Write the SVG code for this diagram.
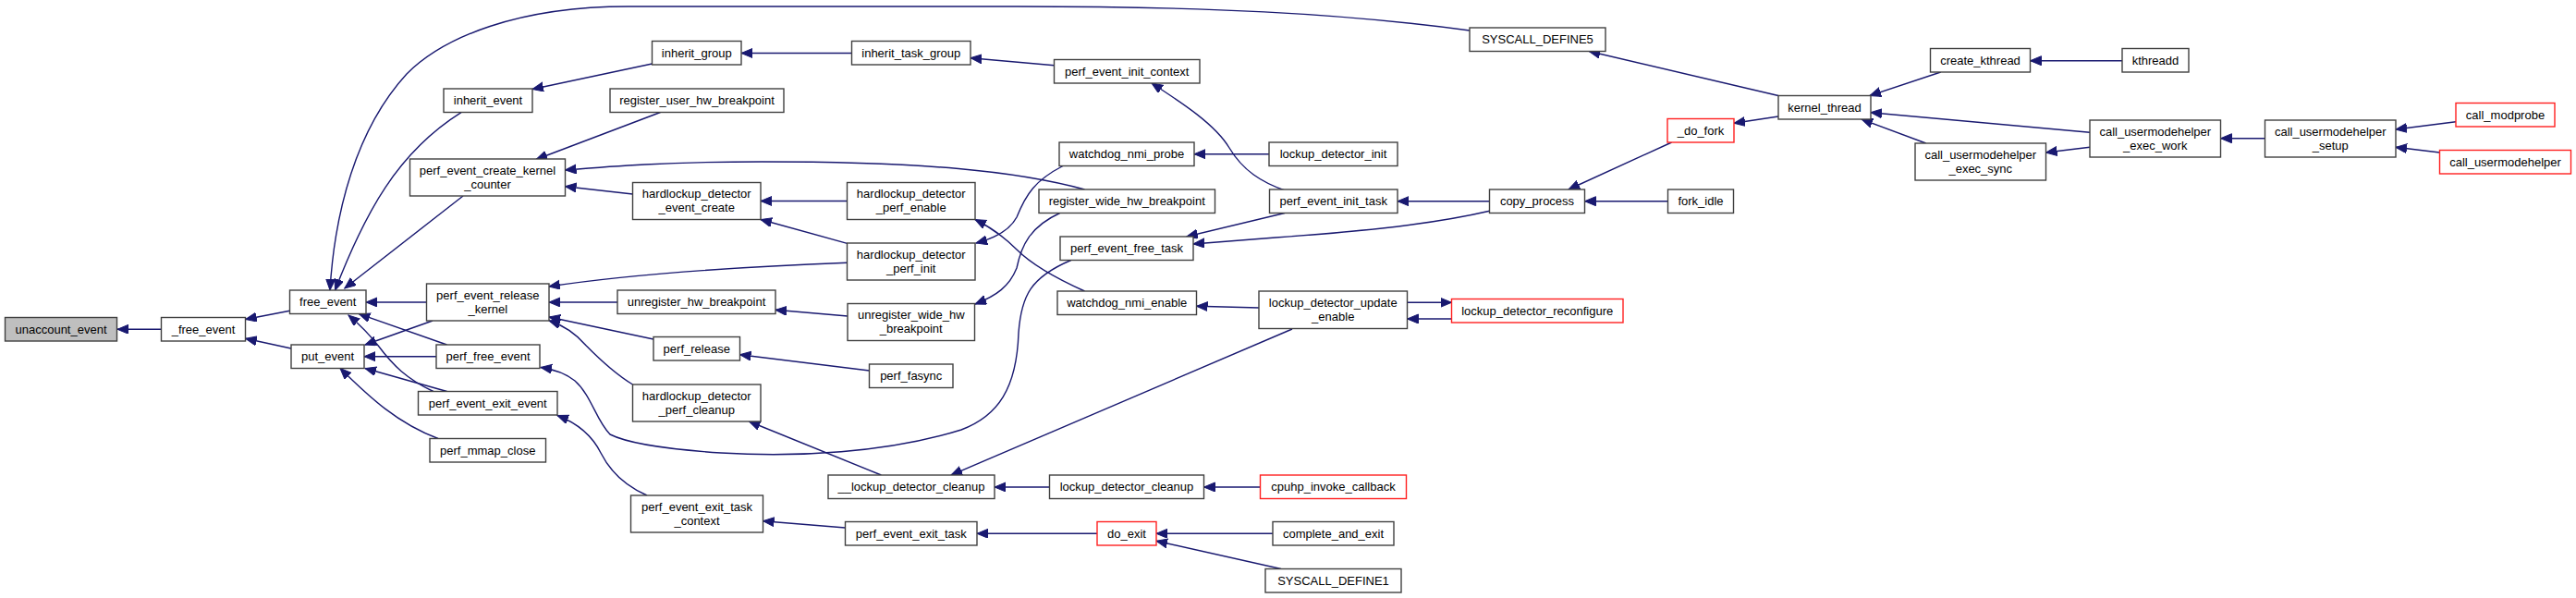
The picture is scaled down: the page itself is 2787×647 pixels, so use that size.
<svg xmlns="http://www.w3.org/2000/svg" width="2787" height="647" viewBox="0 0 2787 647">
<defs>
<style>
.node rect{fill:#ffffff;stroke:#404040;stroke-width:1.4}
.node rect.hl{fill:#bfbfbf}
.node rect.red{stroke:#ff2020}
.node text{font-family:"Liberation Sans",Arial,sans-serif;font-size:13px;fill:#000;text-anchor:middle}
#edges path{fill:none;stroke:#191970;stroke-width:1.4;marker-end:url(#arr)}
</style>
<marker id="arr" markerUnits="userSpaceOnUse" markerWidth="14" markerHeight="12" refX="12" refY="5" orient="auto">
<path d="M0,0 L12,5 L0,10 z" fill="#191970" stroke="#191970" stroke-width="1"/>
</marker>
</defs>
<rect width="2787" height="647" fill="#ffffff"/>
<g id="edges">
<path d="M174.5,356.3 L127,356.3"/>
<path d="M313.5,336.3 L265.6,345.5"/>
<path d="M315,377 L265.6,366.3"/>
<path d="M1590,33 C1450,14 1300,7 1100,7 L680,7 C560,7 480,40 440,80 C385,140 362,230 357,314"/>
<path d="M499,121.7 C430,165 395,230 362.5,314"/>
<path d="M501,212 L372.8,312"/>
<path d="M461.5,327 L396,327"/>
<path d="M483.5,373 L388.4,339.7"/>
<path d="M468.8,423.5 C440,410 425,395 410,375 C400,362 390,352 377,341"/>
<path d="M468,347 L395,373"/>
<path d="M472,385.7 L394,385.7"/>
<path d="M483.5,423.5 L395,398.5"/>
<path d="M474,474.5 C430,458 400,430 368,398.5"/>
<path d="M705.5,69 L576,96.5"/>
<path d="M921.5,57.5 L802,57.5"/>
<path d="M1140.5,70.7 L1050,62.7"/>
<path d="M1390,206 C1365,197 1345,185 1330,160 C1315,135 1280,112 1246,90"/>
<path d="M714.5,121.5 L580,172.5"/>
<path d="M1173.5,205 C1100,185 1000,175 824,175 C720,175 660,180 611.5,184"/>
<path d="M684.5,210 L611.5,201.7"/>
<path d="M916.5,217.5 L823,217.5"/>
<path d="M916.5,263.3 L823,237.5"/>
<path d="M1150,179.5 C1120,195 1110,210 1100,235 C1092,250 1075,258 1056,263"/>
<path d="M1173.5,315 C1140,300 1115,285 1100,270 C1085,255 1070,245 1055,237.5"/>
<path d="M1373,166.7 L1292,166.7"/>
<path d="M1362,333 L1294.5,331.3"/>
<path d="M1390,230.5 L1283.8,256"/>
<path d="M1611.5,228.3 C1540,245 1450,252 1380,257 L1291,264"/>
<path d="M1146.7,230.5 C1115,245 1105,265 1100,290 C1092,310 1078,320 1055,329"/>
<path d="M1158.8,281.5 C1115,300 1105,320 1102,360 C1100,420 1080,450 1040,465 C960,490 860,495 780,490 C720,486 680,480 660,470 C645,455 640,428 622,412 C612,404 602,400 585,397.5"/>
<path d="M916.5,284.3 C820,288 700,294 593.8,310"/>
<path d="M668,327 L594,327"/>
<path d="M707,367 L594,343"/>
<path d="M684.5,416 C665,404 650,390 634,373.7 C622,360 610,352 594,347"/>
<path d="M917,342 L839,335.3"/>
<path d="M940.5,401 L800.5,383.7"/>
<path d="M953.4,514 L810.5,456"/>
<path d="M1398,356 L1029,514"/>
<path d="M1135.5,527 L1076,527"/>
<path d="M1363.5,527 L1302.5,527"/>
<path d="M700,536 C675,525 660,510 650,490 C640,470 625,458 603,449.5"/>
<path d="M914.5,571 L825.5,563.7"/>
<path d="M1187,577.3 L1057,577.3"/>
<path d="M1377,577.3 L1251,577.3"/>
<path d="M1386,615.5 L1251,585.3"/>
<path d="M1522.5,327.3 L1570.5,327.3"/>
<path d="M1570.5,345 L1522.5,345"/>
<path d="M1611.5,217.7 L1512,217.7"/>
<path d="M1804.5,217.7 L1714.5,217.7"/>
<path d="M1808.6,154 L1697,205"/>
<path d="M1924,126 L1876,133.3"/>
<path d="M1924,103.5 L1719.3,55.5"/>
<path d="M2099.7,78 L2022.9,103.5"/>
<path d="M2261,143.3 L2024,121.7"/>
<path d="M2083.7,155 L2014,129"/>
<path d="M2296,65.7 L2196.5,65.7"/>
<path d="M2261,159.3 L2213.5,165"/>
<path d="M2450.5,149.7 L2402.5,149.7"/>
<path d="M2657,131.7 L2592,140"/>
<path d="M2639.5,165 L2592,159.3"/>
</g>
<g id="n_unaccount_event" class="node"><rect class="hl" x="5.5" y="343.5" width="121" height="25.5"/><text x="66" y="360.7">unaccount_event</text></g>
<g id="n__free_event" class="node"><rect x="174.5" y="343.5" width="91" height="25.5"/><text x="220" y="360.7">_free_event</text></g>
<g id="n_free_event" class="node"><rect x="313.5" y="314" width="82.5" height="25.5"/><text x="354.75" y="331.2">free_event</text></g>
<g id="n_put_event" class="node"><rect x="315" y="373" width="79" height="25.5"/><text x="354.5" y="390.2">put_event</text></g>
<g id="n_inherit_event" class="node"><rect x="480" y="96" width="96" height="25.5"/><text x="528" y="113.2">inherit_event</text></g>
<g id="n_perf_event_create_kernel_counter" class="node"><rect x="443.5" y="172" width="168" height="40"/><text x="527.5" y="188.5">perf_event_create_kernel</text><text x="527.5" y="203.5">_counter</text></g>
<g id="n_perf_event_release_kernel" class="node"><rect x="461.5" y="307" width="132.5" height="40"/><text x="527.75" y="323.5">perf_event_release</text><text x="527.75" y="338.5">_kernel</text></g>
<g id="n_perf_free_event" class="node"><rect x="472" y="373" width="112" height="25.5"/><text x="528" y="390.2">perf_free_event</text></g>
<g id="n_perf_event_exit_event" class="node"><rect x="452.5" y="423.5" width="150.5" height="25.5"/><text x="527.75" y="440.7">perf_event_exit_event</text></g>
<g id="n_perf_mmap_close" class="node"><rect x="465" y="474.5" width="125.5" height="25.5"/><text x="527.75" y="491.7">perf_mmap_close</text></g>
<g id="n_inherit_group" class="node"><rect x="705.5" y="44.5" width="96.5" height="25.5"/><text x="753.75" y="61.7">inherit_group</text></g>
<g id="n_register_user_hw_breakpoint" class="node"><rect x="660" y="96" width="188" height="25.5"/><text x="754" y="113.2">register_user_hw_breakpoint</text></g>
<g id="n_hardlockup_detector_event_create" class="node"><rect x="684.5" y="197.5" width="138.5" height="40"/><text x="753.75" y="214">hardlockup_detector</text><text x="753.75" y="229">_event_create</text></g>
<g id="n_unregister_hw_breakpoint" class="node"><rect x="668" y="314" width="171" height="25.5"/><text x="753.5" y="331.2">unregister_hw_breakpoint</text></g>
<g id="n_perf_release" class="node"><rect x="707" y="364.5" width="93.5" height="25.5"/><text x="753.75" y="381.7">perf_release</text></g>
<g id="n_hardlockup_detector_perf_cleanup" class="node"><rect x="684.5" y="416" width="138.5" height="40"/><text x="753.75" y="432.5">hardlockup_detector</text><text x="753.75" y="447.5">_perf_cleanup</text></g>
<g id="n_perf_event_exit_task_context" class="node"><rect x="682.5" y="536" width="143" height="40"/><text x="754" y="552.5">perf_event_exit_task</text><text x="754" y="567.5">_context</text></g>
<g id="n_inherit_task_group" class="node"><rect x="921.5" y="44.5" width="128.5" height="25.5"/><text x="985.75" y="61.7">inherit_task_group</text></g>
<g id="n_hardlockup_detector_perf_enable" class="node"><rect x="916.5" y="197.5" width="138.5" height="40"/><text x="985.75" y="214">hardlockup_detector</text><text x="985.75" y="229">_perf_enable</text></g>
<g id="n_hardlockup_detector_perf_init" class="node"><rect x="916.5" y="263" width="138.5" height="40"/><text x="985.75" y="279.5">hardlockup_detector</text><text x="985.75" y="294.5">_perf_init</text></g>
<g id="n_unregister_wide_hw_breakpoint" class="node"><rect x="917" y="328.5" width="137.5" height="40"/><text x="985.75" y="345">unregister_wide_hw</text><text x="985.75" y="360">_breakpoint</text></g>
<g id="n_perf_fasync" class="node"><rect x="940.5" y="394" width="90.5" height="25.5"/><text x="985.75" y="411.2">perf_fasync</text></g>
<g id="n___lockup_detector_cleanup" class="node"><rect x="896" y="514" width="180" height="25.5"/><text x="986" y="531.2">__lockup_detector_cleanup</text></g>
<g id="n_perf_event_exit_task" class="node"><rect x="914.5" y="564.5" width="142.5" height="25.5"/><text x="985.75" y="581.7">perf_event_exit_task</text></g>
<g id="n_perf_event_init_context" class="node"><rect x="1140.5" y="64.5" width="157.5" height="25.5"/><text x="1219.25" y="81.7">perf_event_init_context</text></g>
<g id="n_watchdog_nmi_probe" class="node"><rect x="1146" y="154" width="146" height="25.5"/><text x="1219" y="171.2">watchdog_nmi_probe</text></g>
<g id="n_register_wide_hw_breakpoint" class="node"><rect x="1124" y="205" width="190.5" height="25.5"/><text x="1219.25" y="222.2">register_wide_hw_breakpoint</text></g>
<g id="n_perf_event_free_task" class="node"><rect x="1147" y="256" width="144" height="25.5"/><text x="1219" y="273.2">perf_event_free_task</text></g>
<g id="n_watchdog_nmi_enable" class="node"><rect x="1144" y="315" width="150.5" height="25.5"/><text x="1219.25" y="332.2">watchdog_nmi_enable</text></g>
<g id="n_lockup_detector_cleanup" class="node"><rect x="1135.5" y="514" width="167" height="25.5"/><text x="1219" y="531.2">lockup_detector_cleanup</text></g>
<g id="n_do_exit" class="node"><rect class="red" x="1187" y="564.5" width="64" height="25.5"/><text x="1219" y="581.7">do_exit</text></g>
<g id="n_lockup_detector_init" class="node"><rect x="1373" y="154" width="139" height="25.5"/><text x="1442.5" y="171.2">lockup_detector_init</text></g>
<g id="n_perf_event_init_task" class="node"><rect x="1373.5" y="205" width="138.5" height="25.5"/><text x="1442.75" y="222.2">perf_event_init_task</text></g>
<g id="n_lockup_detector_update_enable" class="node"><rect x="1362" y="315" width="160.5" height="40.5"/><text x="1442.25" y="331.7">lockup_detector_update</text><text x="1442.25" y="346.7">_enable</text></g>
<g id="n_cpuhp_invoke_callback" class="node"><rect class="red" x="1363.5" y="514" width="158" height="25.5"/><text x="1442.5" y="531.2">cpuhp_invoke_callback</text></g>
<g id="n_complete_and_exit" class="node"><rect x="1377" y="564.5" width="131" height="25.5"/><text x="1442.5" y="581.7">complete_and_exit</text></g>
<g id="n_SYSCALL_DEFINE1" class="node"><rect x="1369" y="615.5" width="147" height="25.5"/><text x="1442.5" y="632.7">SYSCALL_DEFINE1</text></g>
<g id="n_SYSCALL_DEFINE5" class="node"><rect x="1590" y="30" width="147" height="25.5"/><text x="1663.5" y="47.2">SYSCALL_DEFINE5</text></g>
<g id="n_copy_process" class="node"><rect x="1611.5" y="205" width="103" height="25.5"/><text x="1663" y="222.2">copy_process</text></g>
<g id="n_lockup_detector_reconfigure" class="node"><rect class="red" x="1570.5" y="323.5" width="185.5" height="25.5"/><text x="1663.25" y="340.7">lockup_detector_reconfigure</text></g>
<g id="n__do_fork" class="node"><rect class="red" x="1804" y="128.5" width="72" height="25.5"/><text x="1840" y="145.7">_do_fork</text></g>
<g id="n_fork_idle" class="node"><rect x="1804.5" y="205" width="71" height="25.5"/><text x="1840" y="222.2">fork_idle</text></g>
<g id="n_kernel_thread" class="node"><rect x="1924" y="103.5" width="100" height="25.5"/><text x="1974" y="120.7">kernel_thread</text></g>
<g id="n_create_kthread" class="node"><rect x="2088.5" y="52.5" width="108" height="25.5"/><text x="2142.5" y="69.7">create_kthread</text></g>
<g id="n_call_usermodehelper_exec_sync" class="node"><rect x="2072" y="155" width="141.5" height="40"/><text x="2142.75" y="171.5">call_usermodehelper</text><text x="2142.75" y="186.5">_exec_sync</text></g>
<g id="n_kthreadd" class="node"><rect x="2296" y="52.5" width="72" height="25.5"/><text x="2332" y="69.7">kthreadd</text></g>
<g id="n_call_usermodehelper_exec_work" class="node"><rect x="2261" y="130" width="141.5" height="40"/><text x="2331.75" y="146.5">call_usermodehelper</text><text x="2331.75" y="161.5">_exec_work</text></g>
<g id="n_call_usermodehelper_setup" class="node"><rect x="2450.5" y="130" width="141.5" height="40"/><text x="2521.25" y="146.5">call_usermodehelper</text><text x="2521.25" y="161.5">_setup</text></g>
<g id="n_call_modprobe" class="node"><rect class="red" x="2657" y="111.5" width="107" height="25.5"/><text x="2710.5" y="128.7">call_modprobe</text></g>
<g id="n_call_usermodehelper" class="node"><rect class="red" x="2639.5" y="162.5" width="142" height="25.5"/><text x="2710.5" y="179.7">call_usermodehelper</text></g>
</svg>
